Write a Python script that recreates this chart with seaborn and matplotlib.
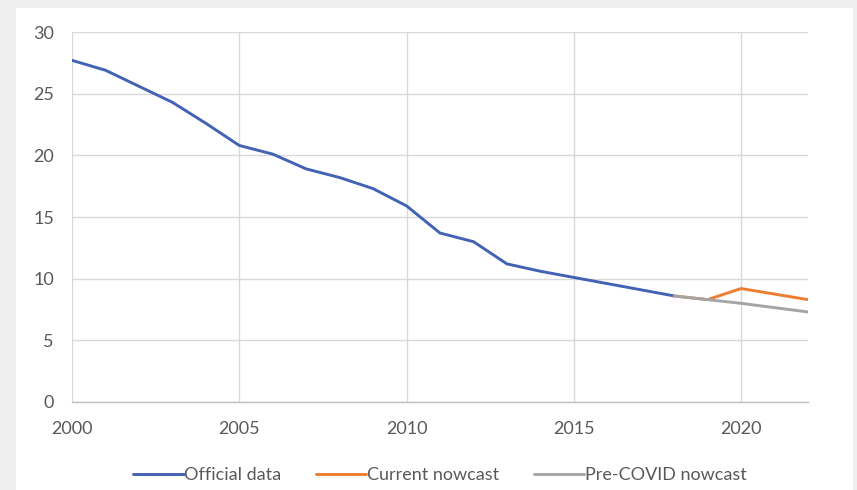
import numpy as np
import pandas as pd
import matplotlib
matplotlib.use("Agg")
import matplotlib.pyplot as plt
from matplotlib.patches import Rectangle
import seaborn as sns

# Series values
official_years = list(range(2000, 2019))
official_vals = [27.7, 26.9, 25.6, 24.3, 22.6, 20.8, 20.1, 18.9, 18.2, 17.3,
                 15.9, 13.7, 13.0, 11.2, 10.6, 10.1, 9.6, 9.1, 8.6]

current_years = [2018, 2019, 2020, 2021, 2022]
current_vals = [8.6, 8.3, 9.2, 8.75, 8.3]

precovid_years = [2018, 2019, 2020, 2021, 2022]
precovid_vals = [8.6, 8.3, 8.0, 7.65, 7.3]

series_names = ["Official data", "Current nowcast", "Pre-COVID nowcast"]
series_colors = ["#4262B4", "#ED7D31", "#A5A5A5"]

x_ticks = [2000, 2005, 2010, 2015, 2020]
y_ticks = [0, 5, 10, 15, 20, 25, 30]

df = pd.concat([
    pd.DataFrame({"year": official_years, "value": official_vals, "series": series_names[0]}),
    pd.DataFrame({"year": current_years, "value": current_vals, "series": series_names[1]}),
    pd.DataFrame({"year": precovid_years, "value": precovid_vals, "series": series_names[2]}),
])

sns.set_theme(style="white")
plt.rcParams["font.family"] = ["Lato", "DejaVu Sans"]

fig = plt.figure(figsize=(8.57, 4.9), dpi=100)
fig.patch.set_facecolor("#efefef")
# white chart panel behind the plot
panel = Rectangle((16 / 857, 0), (853 - 16) / 857, (490 - 8) / 490,
                  transform=fig.transFigure, facecolor="white",
                  edgecolor="none", zorder=-10)
fig.add_artist(panel)

ax = fig.add_axes([72 / 857, 1 - 402 / 490, (808 - 72) / 857, (402 - 32) / 490])
ax.set_facecolor("white")

sns.lineplot(data=df, x="year", y="value", hue="series", hue_order=series_names,
             palette=series_colors, linewidth=2.1, ax=ax, legend=False,
             estimator=None, sort=True)

ax.set_xlim(2000, 2022)
ax.set_ylim(0, 30)
ax.set_xticks(x_ticks)
ax.set_yticks(y_ticks)
ax.set_xlabel("")
ax.set_ylabel("")
ax.grid(True, color="#d9d9d9", linewidth=1.0)
ax.set_axisbelow(True)
for s in ["top", "right", "left"]:
    ax.spines[s].set_visible(False)
ax.spines["bottom"].set_color("#bfbfbf")
ax.spines["bottom"].set_linewidth(1.0)
ax.tick_params(axis="both", length=0, labelsize=13, colors="#595959")
ax.tick_params(axis="y", pad=13)
ax.tick_params(axis="x", pad=14)

handles = [plt.Line2D([0], [0], color=c, linewidth=2.1) for c in series_colors]
fig.legend(handles, series_names, loc="center", bbox_to_anchor=(440 / 857, 1 - 475 / 490),
           ncol=3, frameon=False, fontsize=13, labelcolor="#595959",
           handlelength=2.8, handletextpad=0.05, columnspacing=1.9)

fig.savefig("out.png", dpi=100, facecolor=fig.get_facecolor())
